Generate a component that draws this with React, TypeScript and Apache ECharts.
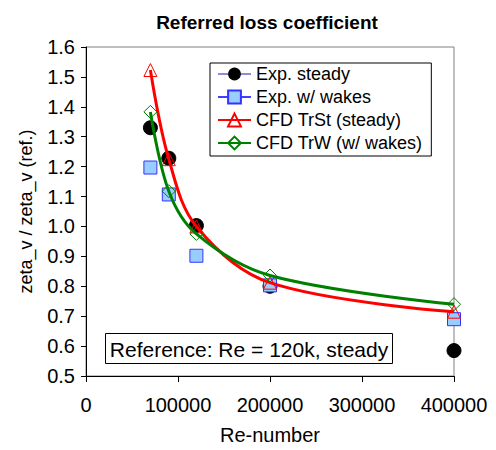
import React, { useEffect, useRef } from "react";
import * as echarts from "echarts";

const reNumbers = [70000, 90000, 120000, 200000, 400000];
const expSteady = [1.33, 1.228, 1.003, 0.8, 0.585];
const expWakes = [1.197, 1.107, 0.902, 0.803, 0.69];
const cfdTrSt = [1.523, 1.225, 1.0, 0.812, 0.715];
const cfdTrW = [1.383, 1.118, 0.975, 0.836, 0.74];
const seriesNames = ["Exp. steady", "Exp. w/ wakes", "CFD TrSt (steady)", "CFD TrW (w/ wakes)"];
const xTitle = "Re-number";
const yTitle = "zeta_v / zeta_v (ref.)";
const chartTitle = "Referred loss coefficient";
const noteText = "Reference: Re = 120k, steady";

const FONT = "'Liberation Sans', Arial, sans-serif";

const pts = (ys: number[]) => reNumbers.map((x, i) => [x, ys[i]]);

export default function App() {
  const ref = useRef<HTMLDivElement>(null);
  useEffect(() => {
    if (!ref.current) return;
    const chart = echarts.init(ref.current, null, { renderer: "svg" });
    chart.setOption({
      animation: false,
      backgroundColor: "#ffffff",
      textStyle: { fontFamily: FONT },
      title: {
        text: chartTitle,
        left: 262,
        textAlign: "center",
        top: 8,
        textStyle: { fontFamily: FONT, fontSize: 19, fontWeight: "bold", color: "#000" },
      },
      grid: {
        left: 86,
        right: 42,
        top: 47,
        bottom: 70,
        show: true,
        borderColor: "#808080",
        borderWidth: 1,
        backgroundColor: "#fff",
      },
      legend: {
        orient: "vertical",
        left: 210,
        top: 63,
        padding: [2, 9, 4, 7],
        itemGap: 5,
        itemWidth: 33,
        itemHeight: 16,
        borderColor: "#000",
        borderWidth: 1,
        borderRadius: 0,
        backgroundColor: "#fff",
        textStyle: { fontFamily: FONT, fontSize: 18, color: "#000" },
        data: [
          { name: seriesNames[0], lineStyle: { opacity: 1, width: 1.5, color: "#6666cc" } },
          { name: seriesNames[1], lineStyle: { opacity: 1, width: 1.5, color: "#0000ff" } },
          { name: seriesNames[2] },
          { name: seriesNames[3] },
        ],
      },
      xAxis: {
        type: "value",
        min: 0,
        max: 400000,
        interval: 100000,
        name: xTitle,
        nameLocation: "middle",
        nameGap: 49,
        nameTextStyle: { fontFamily: FONT, fontSize: 20, color: "#000" },
        axisLine: { show: true, lineStyle: { color: "#000", width: 1 } },
        axisTick: { show: true, length: 6, lineStyle: { color: "#000" } },
        axisLabel: {
          fontFamily: FONT,
          fontSize: 20,
          color: "#000",
          margin: 19,
          formatter: (v: number) => String(v),
        },
        splitLine: { show: false },
      },
      yAxis: {
        type: "value",
        min: 0.5,
        max: 1.6,
        interval: 0.1,
        name: yTitle,
        nameLocation: "middle",
        nameGap: 51,
        nameTextStyle: { fontFamily: FONT, fontSize: 18, color: "#000" },
        axisLine: { show: true, lineStyle: { color: "#000", width: 1 } },
        axisTick: { show: true, length: 5, lineStyle: { color: "#000" } },
        axisLabel: {
          fontFamily: FONT,
          fontSize: 20,
          color: "#000",
          margin: 11,
          formatter: (v: number) => v.toFixed(1),
        },
        splitLine: { show: false },
      },
      series: [
        {
          name: seriesNames[0],
          type: "line",
          data: pts(expSteady),
          symbol: "circle",
          symbolSize: 14,
          itemStyle: { color: "#000", borderColor: "#000" },
          lineStyle: { width: 0, opacity: 0, color: "#6666cc" },
          z: 2,
        },
        {
          name: seriesNames[1],
          type: "line",
          data: pts(expWakes),
          symbol: "rect",
          symbolSize: 13,
          itemStyle: { color: "#99ccff", borderColor: "#3333ff", borderWidth: 1 },
          lineStyle: { width: 0, opacity: 0, color: "#0000ff" },
          z: 3,
        },
        {
          name: seriesNames[2],
          type: "line",
          data: pts(cfdTrSt),
          smooth: 0.35,
          symbol: "triangle",
          symbolSize: 13,
          showAllSymbol: true,
          itemStyle: { color: "rgba(255,255,255,0)", borderColor: "#ff0000", borderWidth: 1 },
          lineStyle: { width: 3, color: "#ff0000" },
          z: 4,
        },
        {
          name: seriesNames[3],
          type: "line",
          data: pts(cfdTrW),
          smooth: 0.35,
          symbol: "diamond",
          symbolSize: 13,
          showAllSymbol: true,
          itemStyle: { color: "rgba(255,255,255,0)", borderColor: "#008000", borderWidth: 1 },
          lineStyle: { width: 3, color: "#008000" },
          z: 5,
        },
      ],
      graphic: [
        {
          type: "group",
          left: 105,
          top: 333,
          z: 100,
          children: [
            {
              type: "rect",
              shape: { x: 0, y: 0, width: 287, height: 30 },
              style: { fill: "#fff", stroke: "#000", lineWidth: 1 },
            },
            {
              type: "text",
              x: 143.5,
              y: 15.5,
              style: {
                text: noteText,
                fontFamily: FONT,
                fontSize: 21,
                fill: "#000",
                align: "center",
                verticalAlign: "middle",
              },
            },
          ],
        },
      ],
    });
    return () => chart.dispose();
  }, []);
  return (
    <div
      ref={ref}
      style={{ position: "absolute", left: 0, top: 0, width: 496, height: 450 }}
    />
  );
}
